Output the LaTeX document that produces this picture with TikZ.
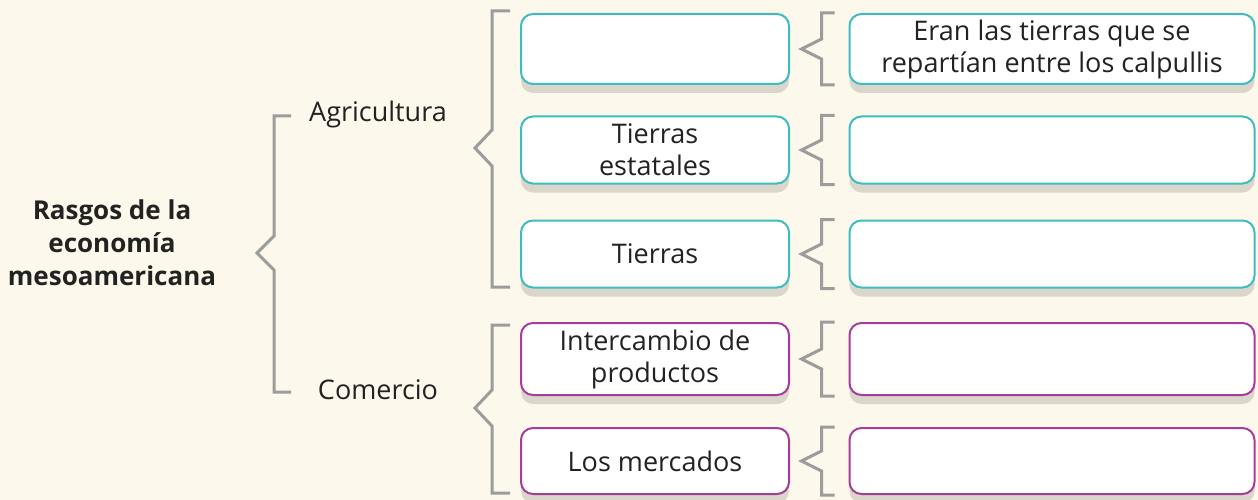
\documentclass[tikz,border=0pt]{standalone}
\usepackage{fontspec}
\setmainfont{Open Sans}
\usetikzlibrary{shadows}
\definecolor{fondo}{HTML}{FCF8EC}
\definecolor{agrocolor}{HTML}{3DBDC0}
\definecolor{comcolor}{HTML}{A63D98}
\definecolor{llavegris}{HTML}{9C9C9C}
\definecolor{sombra}{HTML}{DAD6CC}
\definecolor{texto}{HTML}{222222}
\begin{document}
\begin{tikzpicture}[x=1pt, y=-1pt,
    campo/.style={draw=#1, line width=2pt, fill=white, rounded corners=12pt,
        minimum height=70pt, inner ysep=1pt, align=center, text=texto,
        font=\fontsize{27}{32}\selectfont,
        general shadow={fill=sombra, shadow yshift=-9pt}},
    izq/.style={campo=#1, minimum width=268pt},
    der/.style={campo=#1, minimum width=405pt},
    llave/.style={draw=llavegris, line width=3pt},
    rotulo/.style={text=texto, font=\fontsize{27}{32}\selectfont}]
    % Background
    \fill[fondo] (0,0) rectangle (1258,500);
    \useasboundingbox (0,0) rectangle (1258,500);

    % Title
    \node[text=texto, align=center, font=\bfseries\fontsize{26}{33}\selectfont] (titulo) at (112,243)
        {Rasgos de la\\economía\\mesoamericana};

    % Main bracket
    \draw[llave] (291,116) -- (274,116) -- (274,236) -- (257,253) -- (274,270) -- (274,392) -- (291,392);
    \node[rotulo] (agri) at (378,114) {Agricultura};
    \node[rotulo] (come) at (378,390) {Comercio};

    % Agricultura bracket
    \draw[llave] (510,11) -- (492,11) -- (492,130) -- (475,148) -- (492,166) -- (492,287) -- (510,287);

    % Comercio bracket
    \draw[llave] (510,325) -- (492,325) -- (492,390) -- (475,408) -- (492,426) -- (492,493) -- (510,493);

    % Left column
    \node[izq=agrocolor] (l1) at (655,49) {};
    \node[izq=agrocolor, minimum height=67pt] (l2) at (655,150) {Tierras\\estatales};
    \node[izq=agrocolor, minimum height=67pt] (l3) at (655,254) {Tierras};
    \node[izq=comcolor, minimum height=72pt] (l4) at (655,359) {Intercambio de\\productos};
    \node[izq=comcolor, minimum height=66pt] (l5) at (655,461) {Los mercados};

    % Right column
    \node[der=agrocolor] (r1) at (1052,49) {Eran las tierras que se\\repartían entre los calpullis};
    \node[der=agrocolor, minimum height=67pt] (r2) at (1052,150) {};
    \node[der=agrocolor, minimum height=67pt] (r3) at (1052,254) {};
    \node[der=comcolor, minimum height=72pt] (r4) at (1052,359) {};
    \node[der=comcolor, minimum height=66pt] (r5) at (1052,461) {};

    % Small brackets
    \foreach \i in {1,...,5}
        \draw[llave] ([xshift=-14pt]r\i.north west) -- ([xshift=-27pt]r\i.north west)
            -- ([xshift=-27pt,yshift=10pt]r\i.west) -- ([xshift=-47pt]r\i.west)
            -- ([xshift=-27pt,yshift=-10pt]r\i.west) -- ([xshift=-27pt]r\i.south west)
            -- ([xshift=-14pt]r\i.south west);
\end{tikzpicture}
\end{document}
